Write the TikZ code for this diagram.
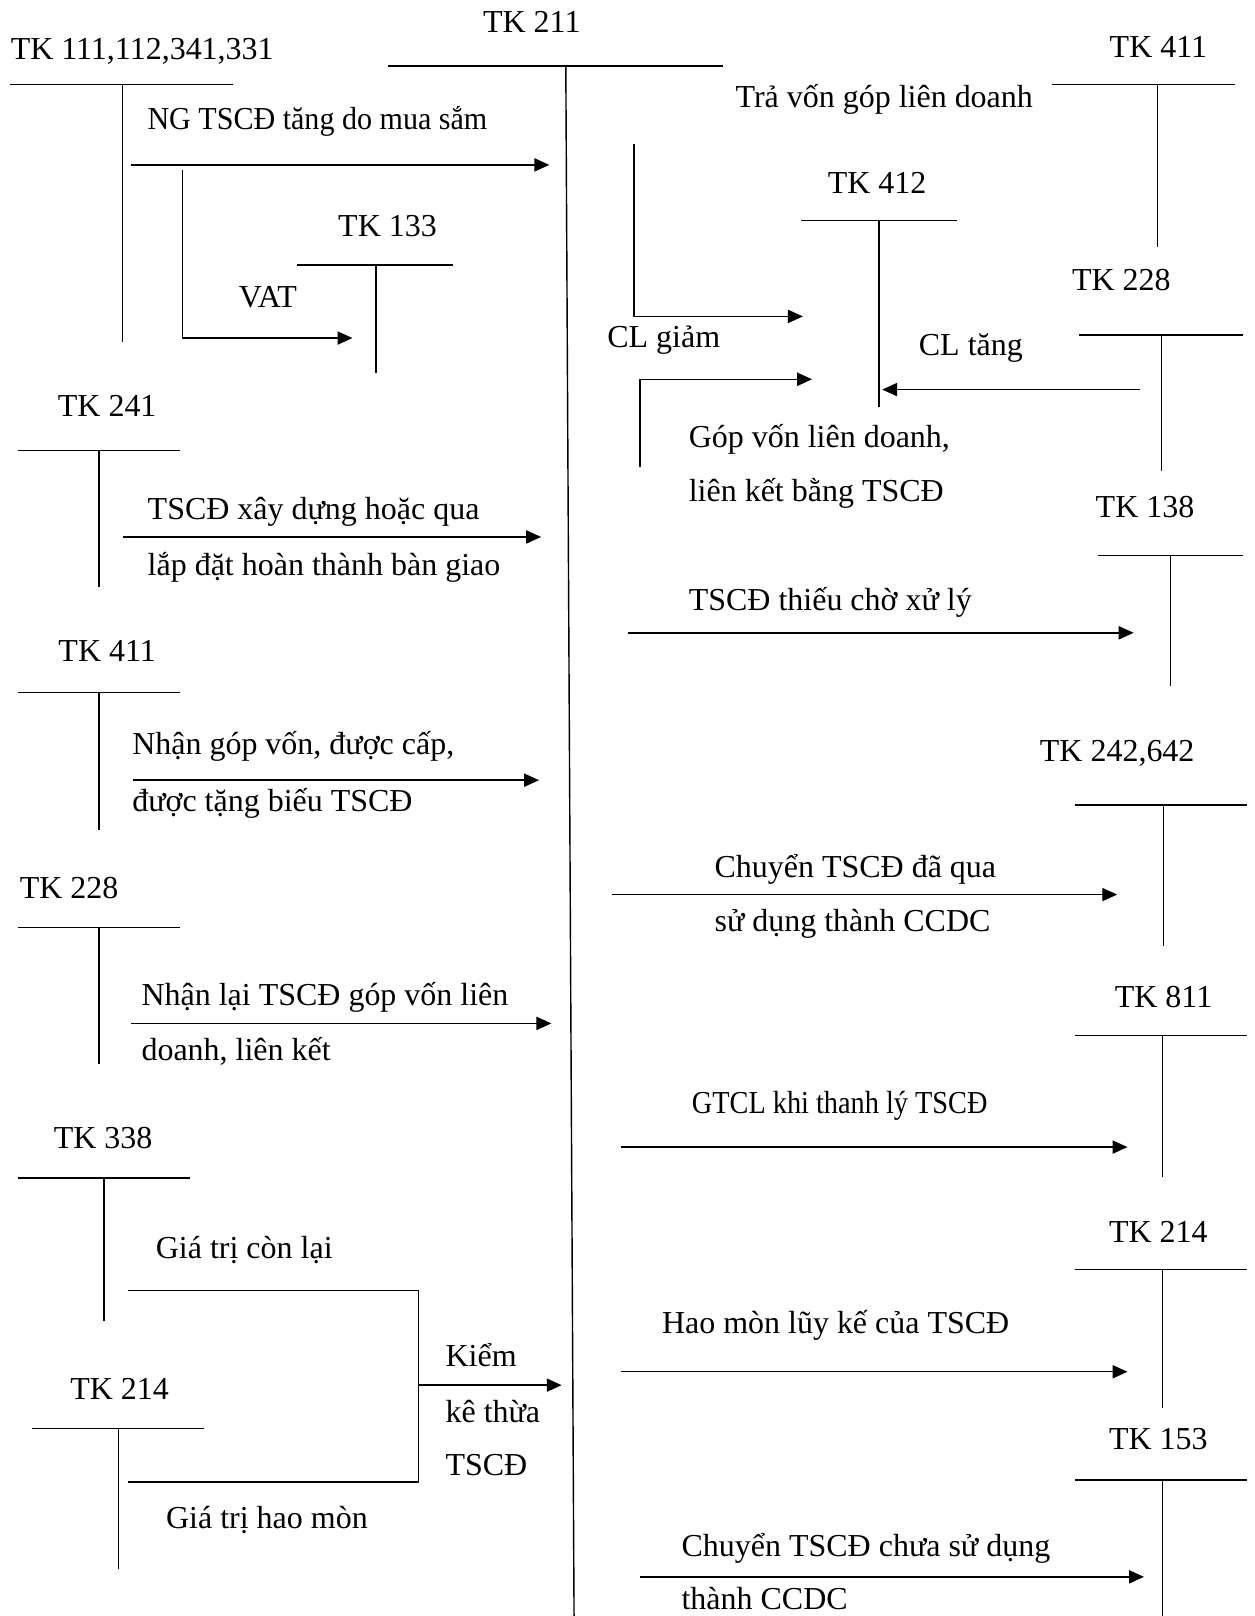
\documentclass[tikz,border=0pt]{standalone}
\usepackage{graphicx}
\usepackage{fontspec}
\setmainfont{Liberation Serif}
\usetikzlibrary{arrows.meta}
\begin{document}
\begin{tikzpicture}[
    x=0.020608cm, y=-0.020608cm,
    every node/.style={inner sep=0pt, font=\fontsize{18.2}{21}\selectfont},
    lbl/.style={anchor=base},
    txt/.style={anchor=base west},
    tline/.style={line width=0.8pt},
    arr/.style={line width=0.8pt, -{Triangle[length=8.5pt, width=7.5pt]}}
]
\useasboundingbox (0,0) rectangle (1217,1568);

% Central account
\node[lbl] (tk211) at (516,32) {TK 211};
\draw[tline] (376,64) -- (702,64);
\draw[tline] (549,64) -- (557,1568);

% Left accounts
\node[lbl] (tk111) at (138,58) {TK 111,112,341,331};
\draw[tline] (10,82) -- (226,82);
\draw[tline] (119,82) -- (119,332);
\node[lbl] (tk133) at (376,229) {TK 133};
\draw[tline] (288,257) -- (440,257);
\draw[tline] (365,257) -- (365,362);
\node[lbl] (tk241) at (104,404) {TK 241};
\draw[tline] (17,437) -- (175,437);
\draw[tline] (96,437) -- (96,570);
\node[lbl] (tk411l) at (104,642) {TK 411};
\draw[tline] (17,672) -- (175,672);
\draw[tline] (96,672) -- (96,805);
\node[lbl] (tk228l) at (67,872) {TK 228};
\draw[tline] (17,900) -- (175,900);
\draw[tline] (96,900) -- (96,1032);
\node[lbl] (tk338) at (100,1114) {TK 338};
\draw[tline] (17,1143) -- (184,1143);
\draw[tline] (101,1143) -- (101,1282);
\node[lbl] (tk214l) at (116,1358) {TK 214};
\draw[tline] (31,1386) -- (198,1386);
\draw[tline] (115,1386) -- (115,1522);

% Right accounts
\node[lbl] (tk411r) at (1124,56) {TK 411};
\draw[tline] (1021,82) -- (1198,82);
\draw[tline] (1123,82) -- (1123,240);
\node[lbl] (tk412) at (851,188) {TK 412};
\draw[tline] (777,214) -- (929,214);
\draw[tline] (853,214) -- (853,395);
\node[lbl] (tk228r) at (1088,282) {TK 228};
\draw[tline] (1047,325) -- (1206,325);
\draw[tline] (1127,325) -- (1127,457);
\node[lbl] (tk138) at (1111,502) {TK 138};
\draw[tline] (1065,539) -- (1206,539);
\draw[tline] (1136,539) -- (1136,666);
\node[lbl] (tk242) at (1084,739) {TK 242,642};
\draw[tline] (1043,781) -- (1210,781);
\draw[tline] (1129,781) -- (1129,918);
\node[lbl] (tk811) at (1129,978) {TK 811};
\draw[tline] (1043,1005) -- (1210,1005);
\draw[tline] (1128,1005) -- (1128,1142);
\node[lbl] (tk214r) at (1124,1206) {TK 214};
\draw[tline] (1043,1232) -- (1210,1232);
\draw[tline] (1128,1232) -- (1128,1366);
\node[lbl] (tk153) at (1124,1406) {TK 153};
\draw[tline] (1043,1436) -- (1210,1436);
\draw[tline] (1128,1436) -- (1128,1568);

% Arrow end points
\coordinate (mua1) at (127,160);   \coordinate (mua2) at (533,160);
\coordinate (vat1) at (177,165);   \coordinate (vat2) at (342,328);
\coordinate (xd1) at (119,521);    \coordinate (xd2) at (525,521);
\coordinate (gv1) at (129,757);    \coordinate (gv2) at (523,757);
\coordinate (nl1) at (127,993);    \coordinate (nl2) at (535,993);
\coordinate (kk1) at (124,1252);   \coordinate (kk2) at (124,1438);
\coordinate (kkm) at (406,1344);   \coordinate (kk3) at (545,1344);
\coordinate (clg1) at (615,140);   \coordinate (clg2) at (779,307);
\coordinate (gl1) at (621,453);    \coordinate (gl2) at (788,368);
\coordinate (clt1) at (1106,378);  \coordinate (clt2) at (856,378);
\coordinate (th1) at (609,614);    \coordinate (th2) at (1100,614);
\coordinate (cc1) at (594,868);    \coordinate (cc2) at (1084,868);
\coordinate (tl1) at (603,1113);   \coordinate (tl2) at (1094,1113);
\coordinate (hm1) at (603,1331);   \coordinate (hm2) at (1094,1331);
\coordinate (cd1) at (621,1530);   \coordinate (cd2) at (1110,1530);

% Left entries
\draw[arr] (mua1) -- (mua2);
\node[lbl] (tmua) at (308,126) {\scalebox{0.94}[1]{NG TSCĐ tăng do mua sắm}};
\draw[arr] (vat1) |- (vat2);
\node[lbl] (tvat) at (260,298) {VAT};
\draw[arr] (xd1) -- (xd2);
\node[txt] (txd1) at (143,504) {TSCĐ xây dựng hoặc qua};
\node[txt] (txd2) at (143,558) {lắp đặt hoàn thành bàn giao};
\draw[arr] (gv1) -- (gv2);
\node[txt] (tgv1) at (128,732) {Nhận góp vốn, được cấp,};
\node[txt] (tgv2) at (128,787) {được tặng biếu TSCĐ};
\draw[arr] (nl1) -- (nl2);
\node[txt] (tnl1) at (137,976) {Nhận lại TSCĐ góp vốn liên};
\node[txt] (tnl2) at (137,1029) {doanh, liên kết};
\draw[tline] (kk1) -| (kkm) |- (kk2);
\draw[arr] (kkm) -- (kk3);
\node[lbl] (tcl) at (237,1221) {Giá trị còn lại};
\node[lbl] (thm) at (259,1483) {Giá trị hao mòn};
\node[txt] (tkk1) at (432,1326) {Kiểm};
\node[txt] (tkk2) at (432,1380) {kê thừa};
\node[txt] (tkk3) at (432,1432) {TSCĐ};

% Right entries
\node[lbl] (ttra) at (858,104) {Trả vốn góp liên doanh};
\draw[arr] (clg1) |- (clg2);
\node[lbl] (tclg) at (644,337) {CL giảm};
\draw[arr] (gl1) |- (gl2);
\node[txt] (tgl1) at (668,434) {Góp vốn liên doanh,};
\node[txt] (tgl2) at (668,487) {liên kết bằng TSCĐ};
\draw[arr] (clt1) -- (clt2);
\node[lbl] (tclt) at (942,345) {CL tăng};
\draw[arr] (th1) -- (th2);
\node[txt] (tth) at (668,592) {TSCĐ thiếu chờ xử lý};
\draw[arr] (cc1) -- (cc2);
\node[txt] (tcc1) at (693,851) {Chuyển TSCĐ đã qua};
\node[txt] (tcc2) at (693,904) {sử dụng thành CCDC};
\draw[arr] (tl1) -- (tl2);
\node[txt] (ttl) at (671,1080) {\scalebox{0.885}[1]{GTCL khi thanh lý TSCĐ}};
\draw[arr] (hm1) -- (hm2);
\node[txt] (thm2) at (642,1294) {Hao mòn lũy kế của TSCĐ};
\draw[arr] (cd1) -- (cd2);
\node[txt] (tcd1) at (661,1510) {Chuyển TSCĐ chưa sử dụng};
\node[txt] (tcd2) at (661,1562) {thành CCDC};

\end{tikzpicture}
\end{document}
